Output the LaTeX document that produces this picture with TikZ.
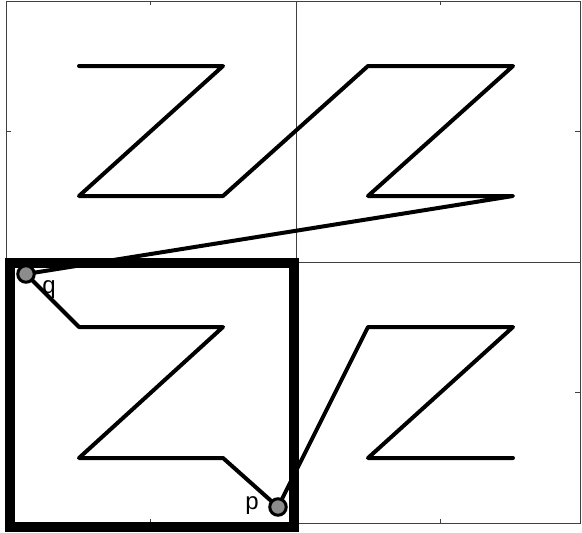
\documentclass[tikz,border=0pt]{standalone}
\usepackage{fontspec}
\setmainfont{Liberation Sans}
\begin{document}
\begin{tikzpicture}[x=1pt,y=-1pt,
  gridline/.style={line width=0.9pt,draw=black!75},
  zpath/.style={line width=4pt,line join=round,line cap=round},
  bigbox/.style={line width=10pt},
  endpt/.style={circle,draw=black,line width=3pt,fill=black!45,minimum size=16.5pt,inner sep=0pt},
  lab/.style={font=\fontsize{24}{24}\selectfont,inner sep=0pt}]
\useasboundingbox (0,0) rectangle (582,533);
% grid
\draw[gridline] (6,1) rectangle (580,523);
\draw[gridline] (296,1) -- (296,523);
\draw[gridline] (6,262) -- (580,262);
\foreach \x in {150,440}{\draw[gridline] (\x,1) -- (\x,5); \draw[gridline] (\x,523) -- (\x,519);}
\foreach \y in {131,392}{\draw[gridline] (6,\y) -- (11,\y); \draw[gridline] (580,\y) -- (575,\y);}
% path coordinates
\coordinate (a1) at (79,66);
\coordinate (a2) at (223,66);
\coordinate (a3) at (79,196);
\coordinate (a4) at (223,196);
\coordinate (b1) at (368,66);
\coordinate (b2) at (513,66);
\coordinate (b3) at (368,196);
\coordinate (b4) at (513,196);
\coordinate (qq) at (26,274);
\coordinate (c1) at (79,327);
\coordinate (c2) at (223,327);
\coordinate (c3) at (79,458);
\coordinate (c4) at (223,458);
\coordinate (pp) at (278,507);
\coordinate (d1) at (368,327);
\coordinate (d2) at (513,327);
\coordinate (d3) at (368,458);
\coordinate (d4) at (513,458);
\draw[zpath] (a1) -- (a2) -- (a3) -- (a4) -- (b1) -- (b2) -- (b3) -- (b4) -- (qq)
  -- (c1) -- (c2) -- (c3) -- (c4) -- (pp) -- (d1) -- (d2) -- (d3) -- (d4);
% thick box
\draw[bigbox] (10,263) rectangle (293.5,527);
% end points
\node[endpt] (q) at (qq) {};
\node[endpt] (p) at (pp) {};
\node[lab] (ql) at (49,290) {q};
\node[lab] (pl) at (252,506) {p};
\end{tikzpicture}
\end{document}
